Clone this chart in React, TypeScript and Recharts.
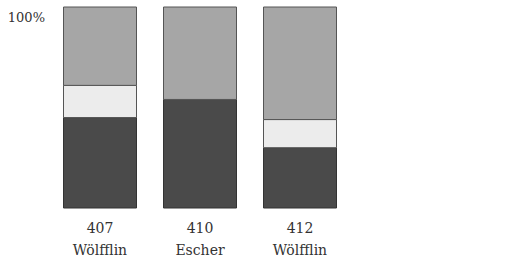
import React from "react";
import { BarChart, Bar, XAxis, YAxis } from "recharts";

const numbers = ["407", "410", "412"];
const painters = ["Wölfflin", "Escher", "Wölfflin"];
const darkShare = [45, 54, 30];
const whiteShare = [16, 0, 14];
const greyShare = [39, 46, 56];

const data = numbers.map((n, i) => ({
  name: n,
  painter: painters[i],
  dark: darkShare[i],
  white: whiteShare[i],
  grey: greyShare[i],
}));

const FONT = "'DejaVu Serif', serif";

const NameTick = (props: any) => {
  const { x, y, payload, index } = props;
  return (
    <text x={x} y={y} textAnchor="middle" fontFamily={FONT} fontSize={14} fill="#333">
      <tspan x={x} dy={17}>{payload.value}</tspan>
      <tspan x={x} dy={22}>{painters[index]}</tspan>
    </text>
  );
};

const PctTick = (props: any) => {
  const { y, payload } = props;
  return (
    <text x={45} y={y + 15} textAnchor="end" fontFamily={FONT} fontSize={13} fill="#333">
      {payload.value}%
    </text>
  );
};

export default function App() {
  return (
    <div style={{ position: "absolute", left: 0, top: 0, width: 530, height: 263, background: "#fff" }}>
      <BarChart
        width={530}
        height={263}
        data={data}
        margin={{ top: 7, right: 180, bottom: 0, left: 0 }}
        barCategoryGap={13.5}
      >
        <YAxis
          domain={[0, 100]}
          ticks={[100]}
          width={50}
          interval={0}
          axisLine={false}
          tickLine={false}
          tick={<PctTick />}
        />
        <XAxis
          dataKey="name"
          height={55}
          axisLine={false}
          tickLine={false}
          tick={<NameTick />}
          interval={0}
        />
        <Bar dataKey="dark" stackId="a" fill="#4a4a4a" stroke="#333" strokeWidth={1} isAnimationActive={false} />
        <Bar dataKey="white" stackId="a" fill="#ececec" stroke="#555" strokeWidth={1} isAnimationActive={false} />
        <Bar dataKey="grey" stackId="a" fill="#a6a6a6" stroke="#555" strokeWidth={1} isAnimationActive={false} />
      </BarChart>
    </div>
  );
}
